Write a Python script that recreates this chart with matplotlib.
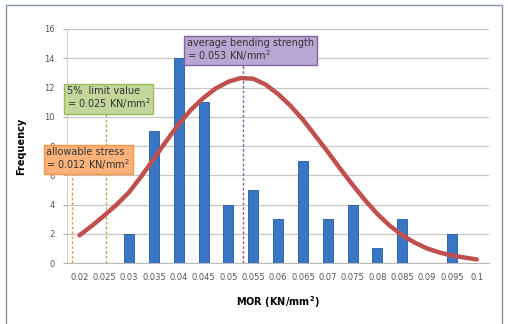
import matplotlib.pyplot as plt
from matplotlib.patches import Rectangle
import numpy as np

# MOR classes (KN/mm2) and counts
mor_labels = ["0.02", "0.025", "0.03", "0.035", "0.04", "0.045", "0.05", "0.055", "0.06",
              "0.065", "0.07", "0.075", "0.08", "0.085", "0.09", "0.095", "0.1"]
freq = [0, 0, 2, 9, 14, 11, 4, 5, 3, 7, 3, 4, 1, 3, 0, 2, 0]

# fitted curve (MOR, frequency)
curve_mor = [0.02, 0.0225, 0.025, 0.0275, 0.03, 0.0325, 0.035, 0.0375, 0.04, 0.0425,
             0.045, 0.0475, 0.05, 0.0525, 0.055, 0.0575, 0.06, 0.0625, 0.065, 0.0675,
             0.07, 0.0725, 0.075, 0.0775, 0.08, 0.0825, 0.085, 0.0875, 0.09, 0.0925,
             0.095, 0.0975, 0.1]
curve_freq = [1.9, 2.55, 3.25, 4.0, 4.85, 5.95, 7.15, 8.35, 9.5, 10.5,
              11.3, 11.95, 12.4, 12.65, 12.6, 12.2, 11.55, 10.75, 9.8, 8.7,
              7.6, 6.45, 5.35, 4.3, 3.35, 2.55, 1.9, 1.4, 1.0, 0.72,
              0.52, 0.38, 0.25]

# marker lines (position in class index units) and their labels
marks_x = [-0.3, 1.05, 6.6]
marks_text = ["allowable stress\n= 0.012 KN/mm$^2$",
              "5%  limit value\n= 0.025 KN/mm$^2$",
              "average bending strength\n= 0.053 KN/mm$^2$"]
marks_top = [6.2, 10.5, 13.8]
marks_col = ["#f79646", "#9bbb59", "#8064a2"]
marks_fill = ["#fab27a", "#c3d69b", "#b9a6d3"]
box_pos = [(-1.33, 7.95), (-0.52, 12.1), (4.34, 15.4)]

fig = plt.figure(figsize=(5.08, 3.24), dpi=100)
ax = fig.add_axes([0.132, 0.188, 0.831, 0.7225])

x = np.arange(len(mor_labels))
ax.bar(x, freq, width=0.4, color="#3a76c6", edgecolor="#24589c", linewidth=0.6, zorder=3)
cx = (np.array(curve_mor) - 0.02) / 0.005
ax.plot(cx, curve_freq, color="#c0504d", lw=3.2, solid_capstyle="round",
        solid_joinstyle="round", zorder=5)

for xm, top, c in zip(marks_x, marks_top, marks_col):
    ax.plot([xm, xm], [0, top], color=c, lw=1.0, ls=(0, (2, 1.5)), zorder=4)

for (bx, by), t, c, f in zip(box_pos, marks_text, marks_col, marks_fill):
    ax.text(bx, by, t, fontsize=7, color="#333333", va="top", ha="left", zorder=6,
            linespacing=1.0,
            bbox=dict(boxstyle="square,pad=0.3", fc=f, ec=c, lw=1.0))

ax.set_xlim(-0.5, 16.5)
ax.set_ylim(0, 16)
ax.set_yticks(range(0, 17, 2))
ax.set_xticks(x)
ax.set_xticklabels(mor_labels)
ax.tick_params(axis="both", labelsize=6, colors="#555555", length=0, pad=7)
ax.tick_params(axis="y", length=3, color="#aaaaaa", pad=6)
ax.yaxis.grid(True, color="#c8c8c8", lw=0.9, zorder=0)
for s in ["top", "right"]:
    ax.spines[s].set_visible(False)
ax.spines["left"].set_color("#d0d0d0")
ax.spines["bottom"].set_color("#bbbbbb")

ax.set_ylabel("Frequency", fontsize=7, fontweight="bold", labelpad=13)
ax.set_xlabel("MOR (KN/mm$^\\mathbf{2}$)", fontsize=7, fontweight="bold", labelpad=9)

# outer frame
fig.patches.append(Rectangle((6 / 508, -0.05), 496 / 508, 1.05 - 5 / 324,
                             transform=fig.transFigure, fill=False,
                             ec="#8497b0", lw=1.0))

fig.savefig("out.png", dpi=100)
